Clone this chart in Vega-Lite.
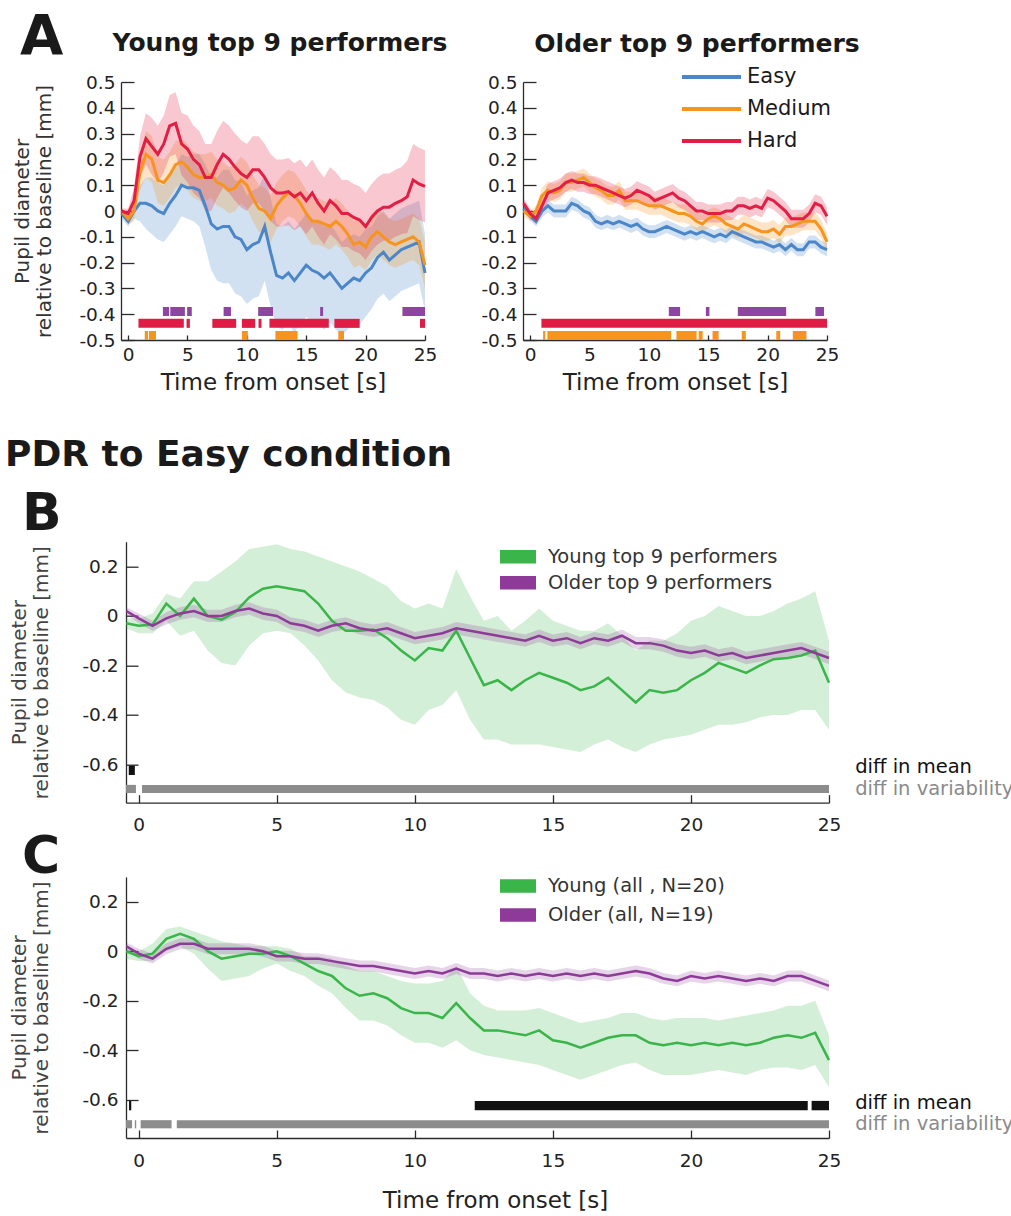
{
"$schema": "https://vega.github.io/schema/vega-lite/v6.json",
"background": "white",
"padding": {"left": 5, "top": 9, "right": 0, "bottom": 0},
"bounds": "flush",
"spacing": 459.7,
"config": {
  "font": "DejaVu Sans",
  "view": {"stroke": null},
  "axis": {"grid": false, "domainColor": "#2b2b2b", "domainWidth": 1.3, "tickColor": "#2b2b2b", "tickWidth": 1.3, "labelFont": "DejaVu Sans", "labelColor": "#222", "labelFontSize": 18.5, "titleFont": "DejaVu Sans", "titleFontWeight": "normal", "titleColor": "#333", "labelFlush": false, "labelOverlap": false},
  "legend": {"labelFont": "DejaVu Sans", "padding": 0, "offset": 0},
  "title": {"font": "DejaVu Sans", "fontWeight": "bold", "color": "#1a1a1a"}
},
"resolve": {"scale": {"color": "independent", "x": "independent", "y": "independent"}, "legend": {"color": "independent"}},
"datasets": {
"aY": [
{"t":-0.55,"c":"Easy","m":-0.01,"lo":-0.03,"hi":0.01},{"t":0,"c":"Easy","m":-0.04,"lo":-0.06,"hi":-0.02},{"t":0.5,"c":"Easy","m":0,"lo":-0.03,"hi":0.03},{"t":1,"c":"Easy","m":0.03,"lo":-0.04,"hi":0.1},{"t":1.5,"c":"Easy","m":0.03,"lo":-0.07,"hi":0.13},{"t":2,"c":"Easy","m":0.02,"lo":-0.09,"hi":0.13},{"t":2.5,"c":"Easy","m":0,"lo":-0.11,"hi":0.11},{"t":3,"c":"Easy","m":-0.01,"lo":-0.12,"hi":0.1},{"t":3.5,"c":"Easy","m":0.03,"lo":-0.09,"hi":0.15},{"t":4,"c":"Easy","m":0.06,"lo":-0.06,"hi":0.18},{"t":4.5,"c":"Easy","m":0.1,"lo":-0.02,"hi":0.22},{"t":5,"c":"Easy","m":0.09,"lo":-0.03,"hi":0.21},{"t":5.5,"c":"Easy","m":0.09,"lo":-0.04,"hi":0.22},{"t":6,"c":"Easy","m":0.08,"lo":-0.06,"hi":0.22},{"t":6.5,"c":"Easy","m":0.02,"lo":-0.14,"hi":0.18},{"t":7,"c":"Easy","m":-0.05,"lo":-0.23,"hi":0.13},{"t":7.5,"c":"Easy","m":-0.07,"lo":-0.27,"hi":0.13},{"t":8,"c":"Easy","m":-0.06,"lo":-0.28,"hi":0.16},{"t":8.5,"c":"Easy","m":-0.06,"lo":-0.28,"hi":0.16},{"t":9,"c":"Easy","m":-0.1,"lo":-0.32,"hi":0.12},{"t":9.5,"c":"Easy","m":-0.11,"lo":-0.33,"hi":0.11},{"t":10,"c":"Easy","m":-0.15,"lo":-0.36,"hi":0.06},{"t":10.5,"c":"Easy","m":-0.13,"lo":-0.34,"hi":0.08},{"t":11,"c":"Easy","m":-0.12,"lo":-0.33,"hi":0.09},{"t":11.5,"c":"Easy","m":-0.06,"lo":-0.27,"hi":0.15},{"t":12,"c":"Easy","m":-0.16,"lo":-0.37,"hi":0.05},{"t":12.5,"c":"Easy","m":-0.25,"lo":-0.45,"hi":-0.05},{"t":13,"c":"Easy","m":-0.26,"lo":-0.46,"hi":-0.06},{"t":13.5,"c":"Easy","m":-0.24,"lo":-0.44,"hi":-0.04},{"t":14,"c":"Easy","m":-0.27,"lo":-0.47,"hi":-0.07},{"t":14.5,"c":"Easy","m":-0.24,"lo":-0.44,"hi":-0.04},{"t":15,"c":"Easy","m":-0.21,"lo":-0.41,"hi":-0.01},{"t":15.5,"c":"Easy","m":-0.23,"lo":-0.43,"hi":-0.03},{"t":16,"c":"Easy","m":-0.24,"lo":-0.44,"hi":-0.04},{"t":16.5,"c":"Easy","m":-0.26,"lo":-0.46,"hi":-0.06},{"t":17,"c":"Easy","m":-0.24,"lo":-0.43,"hi":-0.05},{"t":17.5,"c":"Easy","m":-0.27,"lo":-0.46,"hi":-0.08},{"t":18,"c":"Easy","m":-0.3,"lo":-0.48,"hi":-0.12},{"t":18.5,"c":"Easy","m":-0.28,"lo":-0.46,"hi":-0.1},{"t":19,"c":"Easy","m":-0.26,"lo":-0.43,"hi":-0.09},{"t":19.5,"c":"Easy","m":-0.27,"lo":-0.44,"hi":-0.1},{"t":20,"c":"Easy","m":-0.24,"lo":-0.41,"hi":-0.07},{"t":20.5,"c":"Easy","m":-0.22,"lo":-0.38,"hi":-0.06},{"t":21,"c":"Easy","m":-0.18,"lo":-0.34,"hi":-0.02},{"t":21.5,"c":"Easy","m":-0.16,"lo":-0.32,"hi":0},{"t":22,"c":"Easy","m":-0.19,"lo":-0.35,"hi":-0.03},{"t":22.5,"c":"Easy","m":-0.17,"lo":-0.33,"hi":-0.01},{"t":23,"c":"Easy","m":-0.15,"lo":-0.31,"hi":0.01},{"t":23.5,"c":"Easy","m":-0.14,"lo":-0.3,"hi":0.02},{"t":24,"c":"Easy","m":-0.13,"lo":-0.29,"hi":0.03},{"t":24.5,"c":"Easy","m":-0.12,"lo":-0.28,"hi":0.04},{"t":25,"c":"Easy","m":-0.24,"lo":-0.39,"hi":-0.09},
{"t":-0.55,"c":"Medium","m":0,"lo":-0.01,"hi":0.01},{"t":0,"c":"Medium","m":-0.03,"lo":-0.05,"hi":-0.01},{"t":0.5,"c":"Medium","m":0,"lo":-0.04,"hi":0.04},{"t":1,"c":"Medium","m":0.15,"lo":0.08,"hi":0.22},{"t":1.5,"c":"Medium","m":0.22,"lo":0.13,"hi":0.31},{"t":2,"c":"Medium","m":0.2,"lo":0.11,"hi":0.29},{"t":2.5,"c":"Medium","m":0.12,"lo":0.03,"hi":0.21},{"t":3,"c":"Medium","m":0.11,"lo":0.02,"hi":0.2},{"t":3.5,"c":"Medium","m":0.14,"lo":0.05,"hi":0.23},{"t":4,"c":"Medium","m":0.18,"lo":0.09,"hi":0.27},{"t":4.5,"c":"Medium","m":0.19,"lo":0.1,"hi":0.28},{"t":5,"c":"Medium","m":0.17,"lo":0.08,"hi":0.26},{"t":5.5,"c":"Medium","m":0.14,"lo":0.05,"hi":0.23},{"t":6,"c":"Medium","m":0.13,"lo":0.04,"hi":0.22},{"t":6.5,"c":"Medium","m":0.13,"lo":0.04,"hi":0.22},{"t":7,"c":"Medium","m":0.14,"lo":0.05,"hi":0.23},{"t":7.5,"c":"Medium","m":0.11,"lo":0.02,"hi":0.2},{"t":8,"c":"Medium","m":0.1,"lo":0.01,"hi":0.19},{"t":8.5,"c":"Medium","m":0.08,"lo":-0.01,"hi":0.17},{"t":9,"c":"Medium","m":0.09,"lo":0,"hi":0.18},{"t":9.5,"c":"Medium","m":0.12,"lo":0.03,"hi":0.21},{"t":10,"c":"Medium","m":0.1,"lo":0.01,"hi":0.19},{"t":10.5,"c":"Medium","m":0.05,"lo":-0.04,"hi":0.14},{"t":11,"c":"Medium","m":0.01,"lo":-0.08,"hi":0.1},{"t":11.5,"c":"Medium","m":0,"lo":-0.09,"hi":0.09},{"t":12,"c":"Medium","m":-0.03,"lo":-0.12,"hi":0.06},{"t":12.5,"c":"Medium","m":0.02,"lo":-0.07,"hi":0.11},{"t":13,"c":"Medium","m":0.05,"lo":-0.04,"hi":0.14},{"t":13.5,"c":"Medium","m":0.07,"lo":-0.02,"hi":0.16},{"t":14,"c":"Medium","m":0.06,"lo":-0.03,"hi":0.15},{"t":14.5,"c":"Medium","m":0.03,"lo":-0.06,"hi":0.12},{"t":15,"c":"Medium","m":-0.01,"lo":-0.1,"hi":0.08},{"t":15.5,"c":"Medium","m":-0.04,"lo":-0.13,"hi":0.05},{"t":16,"c":"Medium","m":-0.04,"lo":-0.13,"hi":0.05},{"t":16.5,"c":"Medium","m":-0.05,"lo":-0.14,"hi":0.04},{"t":17,"c":"Medium","m":-0.06,"lo":-0.15,"hi":0.03},{"t":17.5,"c":"Medium","m":-0.04,"lo":-0.13,"hi":0.05},{"t":18,"c":"Medium","m":-0.06,"lo":-0.15,"hi":0.03},{"t":18.5,"c":"Medium","m":-0.09,"lo":-0.18,"hi":0},{"t":19,"c":"Medium","m":-0.13,"lo":-0.22,"hi":-0.04},{"t":19.5,"c":"Medium","m":-0.12,"lo":-0.21,"hi":-0.03},{"t":20,"c":"Medium","m":-0.14,"lo":-0.23,"hi":-0.05},{"t":20.5,"c":"Medium","m":-0.1,"lo":-0.19,"hi":-0.01},{"t":21,"c":"Medium","m":-0.08,"lo":-0.17,"hi":0.01},{"t":21.5,"c":"Medium","m":-0.1,"lo":-0.19,"hi":-0.01},{"t":22,"c":"Medium","m":-0.12,"lo":-0.21,"hi":-0.03},{"t":22.5,"c":"Medium","m":-0.13,"lo":-0.22,"hi":-0.04},{"t":23,"c":"Medium","m":-0.12,"lo":-0.21,"hi":-0.03},{"t":23.5,"c":"Medium","m":-0.11,"lo":-0.2,"hi":-0.02},{"t":24,"c":"Medium","m":-0.1,"lo":-0.19,"hi":-0.01},{"t":24.5,"c":"Medium","m":-0.12,"lo":-0.21,"hi":-0.03},{"t":25,"c":"Medium","m":-0.21,"lo":-0.3,"hi":-0.12},
{"t":-0.55,"c":"Hard","m":0,"lo":-0.01,"hi":0.01},{"t":0,"c":"Hard","m":-0.01,"lo":-0.03,"hi":0.01},{"t":0.5,"c":"Hard","m":0.04,"lo":-0.01,"hi":0.09},{"t":1,"c":"Hard","m":0.21,"lo":0.13,"hi":0.29},{"t":1.5,"c":"Hard","m":0.28,"lo":0.18,"hi":0.38},{"t":2,"c":"Hard","m":0.25,"lo":0.14,"hi":0.36},{"t":2.5,"c":"Hard","m":0.22,"lo":0.11,"hi":0.33},{"t":3,"c":"Hard","m":0.26,"lo":0.15,"hi":0.37},{"t":3.5,"c":"Hard","m":0.33,"lo":0.21,"hi":0.45},{"t":4,"c":"Hard","m":0.34,"lo":0.22,"hi":0.46},{"t":4.5,"c":"Hard","m":0.26,"lo":0.14,"hi":0.38},{"t":5,"c":"Hard","m":0.24,"lo":0.11,"hi":0.37},{"t":5.5,"c":"Hard","m":0.2,"lo":0.07,"hi":0.33},{"t":6,"c":"Hard","m":0.18,"lo":0.05,"hi":0.31},{"t":6.5,"c":"Hard","m":0.13,"lo":0,"hi":0.26},{"t":7,"c":"Hard","m":0.13,"lo":0,"hi":0.26},{"t":7.5,"c":"Hard","m":0.18,"lo":0.05,"hi":0.31},{"t":8,"c":"Hard","m":0.22,"lo":0.09,"hi":0.35},{"t":8.5,"c":"Hard","m":0.2,"lo":0.07,"hi":0.33},{"t":9,"c":"Hard","m":0.17,"lo":0.04,"hi":0.3},{"t":9.5,"c":"Hard","m":0.145,"lo":0.015,"hi":0.275},{"t":10,"c":"Hard","m":0.13,"lo":0,"hi":0.26},{"t":10.5,"c":"Hard","m":0.16,"lo":0.03,"hi":0.29},{"t":11,"c":"Hard","m":0.16,"lo":0.03,"hi":0.29},{"t":11.5,"c":"Hard","m":0.13,"lo":0,"hi":0.26},{"t":12,"c":"Hard","m":0.09,"lo":-0.04,"hi":0.22},{"t":12.5,"c":"Hard","m":0.07,"lo":-0.06,"hi":0.2},{"t":13,"c":"Hard","m":0.07,"lo":-0.06,"hi":0.2},{"t":13.5,"c":"Hard","m":0.075,"lo":-0.055,"hi":0.205},{"t":14,"c":"Hard","m":0.055,"lo":-0.075,"hi":0.185},{"t":14.5,"c":"Hard","m":0.07,"lo":-0.06,"hi":0.2},{"t":15,"c":"Hard","m":0.04,"lo":-0.09,"hi":0.17},{"t":15.5,"c":"Hard","m":0.07,"lo":-0.06,"hi":0.2},{"t":16,"c":"Hard","m":0.03,"lo":-0.1,"hi":0.16},{"t":16.5,"c":"Hard","m":0,"lo":-0.13,"hi":0.13},{"t":17,"c":"Hard","m":0.04,"lo":-0.09,"hi":0.17},{"t":17.5,"c":"Hard","m":0.02,"lo":-0.11,"hi":0.15},{"t":18,"c":"Hard","m":-0.01,"lo":-0.14,"hi":0.12},{"t":18.5,"c":"Hard","m":-0.01,"lo":-0.14,"hi":0.12},{"t":19,"c":"Hard","m":-0.025,"lo":-0.155,"hi":0.105},{"t":19.5,"c":"Hard","m":-0.035,"lo":-0.165,"hi":0.095},{"t":20,"c":"Hard","m":-0.06,"lo":-0.19,"hi":0.07},{"t":20.5,"c":"Hard","m":-0.025,"lo":-0.155,"hi":0.105},{"t":21,"c":"Hard","m":0,"lo":-0.13,"hi":0.13},{"t":21.5,"c":"Hard","m":0.015,"lo":-0.115,"hi":0.145},{"t":22,"c":"Hard","m":0.015,"lo":-0.115,"hi":0.145},{"t":22.5,"c":"Hard","m":0.03,"lo":-0.1,"hi":0.16},{"t":23,"c":"Hard","m":0.04,"lo":-0.09,"hi":0.17},{"t":23.5,"c":"Hard","m":0.055,"lo":-0.085,"hi":0.195},{"t":24,"c":"Hard","m":0.12,"lo":-0.02,"hi":0.26},{"t":24.5,"c":"Hard","m":0.105,"lo":-0.035,"hi":0.245},{"t":25,"c":"Hard","m":0.095,"lo":-0.045,"hi":0.235}
],
"aO": [
{"t":-0.55,"c":"Easy","m":0.01,"lo":-0.005,"hi":0.025},{"t":0,"c":"Easy","m":-0.02,"lo":-0.035,"hi":-0.005},{"t":0.5,"c":"Easy","m":-0.04,"lo":-0.06,"hi":-0.02},{"t":1,"c":"Easy","m":0,"lo":-0.025,"hi":0.025},{"t":1.5,"c":"Easy","m":0.02,"lo":-0.005,"hi":0.045},{"t":2,"c":"Easy","m":0,"lo":-0.025,"hi":0.025},{"t":2.5,"c":"Easy","m":0,"lo":-0.025,"hi":0.025},{"t":3,"c":"Easy","m":0,"lo":-0.025,"hi":0.025},{"t":3.5,"c":"Easy","m":0.03,"lo":0.005,"hi":0.055},{"t":4,"c":"Easy","m":0.02,"lo":-0.005,"hi":0.045},{"t":4.5,"c":"Easy","m":0,"lo":-0.025,"hi":0.025},{"t":5,"c":"Easy","m":-0.01,"lo":-0.035,"hi":0.015},{"t":5.5,"c":"Easy","m":-0.04,"lo":-0.065,"hi":-0.015},{"t":6,"c":"Easy","m":-0.05,"lo":-0.075,"hi":-0.025},{"t":6.5,"c":"Easy","m":-0.04,"lo":-0.065,"hi":-0.015},{"t":7,"c":"Easy","m":-0.05,"lo":-0.075,"hi":-0.025},{"t":7.5,"c":"Easy","m":-0.04,"lo":-0.065,"hi":-0.015},{"t":8,"c":"Easy","m":-0.05,"lo":-0.075,"hi":-0.025},{"t":8.5,"c":"Easy","m":-0.06,"lo":-0.085,"hi":-0.035},{"t":9,"c":"Easy","m":-0.05,"lo":-0.075,"hi":-0.025},{"t":9.5,"c":"Easy","m":-0.07,"lo":-0.095,"hi":-0.045},{"t":10,"c":"Easy","m":-0.08,"lo":-0.105,"hi":-0.055},{"t":10.5,"c":"Easy","m":-0.08,"lo":-0.105,"hi":-0.055},{"t":11,"c":"Easy","m":-0.07,"lo":-0.095,"hi":-0.045},{"t":11.5,"c":"Easy","m":-0.06,"lo":-0.085,"hi":-0.035},{"t":12,"c":"Easy","m":-0.07,"lo":-0.095,"hi":-0.045},{"t":12.5,"c":"Easy","m":-0.08,"lo":-0.105,"hi":-0.055},{"t":13,"c":"Easy","m":-0.09,"lo":-0.115,"hi":-0.065},{"t":13.5,"c":"Easy","m":-0.08,"lo":-0.105,"hi":-0.055},{"t":14,"c":"Easy","m":-0.09,"lo":-0.115,"hi":-0.065},{"t":14.5,"c":"Easy","m":-0.08,"lo":-0.105,"hi":-0.055},{"t":15,"c":"Easy","m":-0.09,"lo":-0.115,"hi":-0.065},{"t":15.5,"c":"Easy","m":-0.1,"lo":-0.125,"hi":-0.075},{"t":16,"c":"Easy","m":-0.09,"lo":-0.115,"hi":-0.065},{"t":16.5,"c":"Easy","m":-0.1,"lo":-0.125,"hi":-0.075},{"t":17,"c":"Easy","m":-0.08,"lo":-0.105,"hi":-0.055},{"t":17.5,"c":"Easy","m":-0.09,"lo":-0.115,"hi":-0.065},{"t":18,"c":"Easy","m":-0.1,"lo":-0.125,"hi":-0.075},{"t":18.5,"c":"Easy","m":-0.11,"lo":-0.135,"hi":-0.085},{"t":19,"c":"Easy","m":-0.12,"lo":-0.145,"hi":-0.095},{"t":19.5,"c":"Easy","m":-0.12,"lo":-0.145,"hi":-0.095},{"t":20,"c":"Easy","m":-0.13,"lo":-0.155,"hi":-0.105},{"t":20.5,"c":"Easy","m":-0.14,"lo":-0.165,"hi":-0.115},{"t":21,"c":"Easy","m":-0.13,"lo":-0.155,"hi":-0.105},{"t":21.5,"c":"Easy","m":-0.15,"lo":-0.175,"hi":-0.125},{"t":22,"c":"Easy","m":-0.13,"lo":-0.155,"hi":-0.105},{"t":22.5,"c":"Easy","m":-0.15,"lo":-0.175,"hi":-0.125},{"t":23,"c":"Easy","m":-0.15,"lo":-0.175,"hi":-0.125},{"t":23.5,"c":"Easy","m":-0.12,"lo":-0.145,"hi":-0.095},{"t":24,"c":"Easy","m":-0.12,"lo":-0.145,"hi":-0.095},{"t":24.5,"c":"Easy","m":-0.14,"lo":-0.165,"hi":-0.115},{"t":25,"c":"Easy","m":-0.15,"lo":-0.175,"hi":-0.125},
{"t":-0.55,"c":"Medium","m":0,"lo":-0.02,"hi":0.02},{"t":0,"c":"Medium","m":-0.02,"lo":-0.04,"hi":0},{"t":0.5,"c":"Medium","m":0,"lo":-0.02,"hi":0.02},{"t":1,"c":"Medium","m":0.06,"lo":0.03,"hi":0.09},{"t":1.5,"c":"Medium","m":0.08,"lo":0.045,"hi":0.115},{"t":2,"c":"Medium","m":0.07,"lo":0.035,"hi":0.105},{"t":2.5,"c":"Medium","m":0.08,"lo":0.045,"hi":0.115},{"t":3,"c":"Medium","m":0.11,"lo":0.075,"hi":0.145},{"t":3.5,"c":"Medium","m":0.11,"lo":0.075,"hi":0.145},{"t":4,"c":"Medium","m":0.12,"lo":0.085,"hi":0.155},{"t":4.5,"c":"Medium","m":0.13,"lo":0.095,"hi":0.165},{"t":5,"c":"Medium","m":0.11,"lo":0.075,"hi":0.145},{"t":5.5,"c":"Medium","m":0.09,"lo":0.055,"hi":0.125},{"t":6,"c":"Medium","m":0.08,"lo":0.045,"hi":0.115},{"t":6.5,"c":"Medium","m":0.06,"lo":0.025,"hi":0.095},{"t":7,"c":"Medium","m":0.06,"lo":0.025,"hi":0.095},{"t":7.5,"c":"Medium","m":0.08,"lo":0.045,"hi":0.115},{"t":8,"c":"Medium","m":0.04,"lo":0.005,"hi":0.075},{"t":8.5,"c":"Medium","m":0.04,"lo":0.005,"hi":0.075},{"t":9,"c":"Medium","m":0.04,"lo":0.005,"hi":0.075},{"t":9.5,"c":"Medium","m":0.03,"lo":-0.005,"hi":0.065},{"t":10,"c":"Medium","m":0.02,"lo":-0.015,"hi":0.055},{"t":10.5,"c":"Medium","m":0.02,"lo":-0.015,"hi":0.055},{"t":11,"c":"Medium","m":0.02,"lo":-0.015,"hi":0.055},{"t":11.5,"c":"Medium","m":0.01,"lo":-0.025,"hi":0.045},{"t":12,"c":"Medium","m":0,"lo":-0.035,"hi":0.035},{"t":12.5,"c":"Medium","m":-0.01,"lo":-0.045,"hi":0.025},{"t":13,"c":"Medium","m":-0.01,"lo":-0.045,"hi":0.025},{"t":13.5,"c":"Medium","m":-0.02,"lo":-0.055,"hi":0.015},{"t":14,"c":"Medium","m":-0.04,"lo":-0.075,"hi":-0.005},{"t":14.5,"c":"Medium","m":-0.05,"lo":-0.085,"hi":-0.015},{"t":15,"c":"Medium","m":-0.03,"lo":-0.065,"hi":0.005},{"t":15.5,"c":"Medium","m":-0.02,"lo":-0.055,"hi":0.015},{"t":16,"c":"Medium","m":-0.03,"lo":-0.065,"hi":0.005},{"t":16.5,"c":"Medium","m":-0.05,"lo":-0.085,"hi":-0.015},{"t":17,"c":"Medium","m":-0.06,"lo":-0.095,"hi":-0.025},{"t":17.5,"c":"Medium","m":-0.07,"lo":-0.105,"hi":-0.035},{"t":18,"c":"Medium","m":-0.05,"lo":-0.085,"hi":-0.015},{"t":18.5,"c":"Medium","m":-0.06,"lo":-0.095,"hi":-0.025},{"t":19,"c":"Medium","m":-0.07,"lo":-0.105,"hi":-0.035},{"t":19.5,"c":"Medium","m":-0.08,"lo":-0.115,"hi":-0.045},{"t":20,"c":"Medium","m":-0.08,"lo":-0.115,"hi":-0.045},{"t":20.5,"c":"Medium","m":-0.07,"lo":-0.105,"hi":-0.035},{"t":21,"c":"Medium","m":-0.09,"lo":-0.125,"hi":-0.055},{"t":21.5,"c":"Medium","m":-0.06,"lo":-0.095,"hi":-0.025},{"t":22,"c":"Medium","m":-0.06,"lo":-0.095,"hi":-0.025},{"t":22.5,"c":"Medium","m":-0.05,"lo":-0.085,"hi":-0.015},{"t":23,"c":"Medium","m":-0.04,"lo":-0.075,"hi":-0.005},{"t":23.5,"c":"Medium","m":-0.04,"lo":-0.075,"hi":-0.005},{"t":24,"c":"Medium","m":-0.04,"lo":-0.075,"hi":-0.005},{"t":24.5,"c":"Medium","m":-0.07,"lo":-0.105,"hi":-0.035},{"t":25,"c":"Medium","m":-0.12,"lo":-0.155,"hi":-0.085},
{"t":-0.55,"c":"Hard","m":0.03,"lo":0.01,"hi":0.05},{"t":0,"c":"Hard","m":-0.01,"lo":-0.03,"hi":0.01},{"t":0.5,"c":"Hard","m":-0.03,"lo":-0.05,"hi":-0.01},{"t":1,"c":"Hard","m":0.02,"lo":-0.015,"hi":0.055},{"t":1.5,"c":"Hard","m":0.07,"lo":0.035,"hi":0.105},{"t":2,"c":"Hard","m":0.08,"lo":0.045,"hi":0.115},{"t":2.5,"c":"Hard","m":0.09,"lo":0.055,"hi":0.125},{"t":3,"c":"Hard","m":0.11,"lo":0.075,"hi":0.145},{"t":3.5,"c":"Hard","m":0.12,"lo":0.085,"hi":0.155},{"t":4,"c":"Hard","m":0.11,"lo":0.075,"hi":0.145},{"t":4.5,"c":"Hard","m":0.11,"lo":0.075,"hi":0.145},{"t":5,"c":"Hard","m":0.1,"lo":0.065,"hi":0.135},{"t":5.5,"c":"Hard","m":0.1,"lo":0.065,"hi":0.135},{"t":6,"c":"Hard","m":0.09,"lo":0.055,"hi":0.125},{"t":6.5,"c":"Hard","m":0.08,"lo":0.045,"hi":0.115},{"t":7,"c":"Hard","m":0.07,"lo":0.035,"hi":0.105},{"t":7.5,"c":"Hard","m":0.06,"lo":0.025,"hi":0.095},{"t":8,"c":"Hard","m":0.05,"lo":0.015,"hi":0.085},{"t":8.5,"c":"Hard","m":0.06,"lo":0.025,"hi":0.095},{"t":9,"c":"Hard","m":0.08,"lo":0.045,"hi":0.115},{"t":9.5,"c":"Hard","m":0.07,"lo":0.035,"hi":0.105},{"t":10,"c":"Hard","m":0.06,"lo":0.025,"hi":0.095},{"t":10.5,"c":"Hard","m":0.04,"lo":0.005,"hi":0.075},{"t":11,"c":"Hard","m":0.05,"lo":0.015,"hi":0.085},{"t":11.5,"c":"Hard","m":0.06,"lo":0.025,"hi":0.095},{"t":12,"c":"Hard","m":0.07,"lo":0.035,"hi":0.105},{"t":12.5,"c":"Hard","m":0.05,"lo":0.015,"hi":0.085},{"t":13,"c":"Hard","m":0.04,"lo":0.005,"hi":0.075},{"t":13.5,"c":"Hard","m":0.02,"lo":-0.015,"hi":0.055},{"t":14,"c":"Hard","m":0,"lo":-0.035,"hi":0.035},{"t":14.5,"c":"Hard","m":0,"lo":-0.035,"hi":0.035},{"t":15,"c":"Hard","m":-0.01,"lo":-0.045,"hi":0.025},{"t":15.5,"c":"Hard","m":-0.01,"lo":-0.045,"hi":0.025},{"t":16,"c":"Hard","m":-0.01,"lo":-0.045,"hi":0.025},{"t":16.5,"c":"Hard","m":0,"lo":-0.035,"hi":0.035},{"t":17,"c":"Hard","m":0,"lo":-0.035,"hi":0.035},{"t":17.5,"c":"Hard","m":0.02,"lo":-0.015,"hi":0.055},{"t":18,"c":"Hard","m":0.02,"lo":-0.015,"hi":0.055},{"t":18.5,"c":"Hard","m":0.01,"lo":-0.025,"hi":0.045},{"t":19,"c":"Hard","m":0.02,"lo":-0.015,"hi":0.055},{"t":19.5,"c":"Hard","m":0.01,"lo":-0.025,"hi":0.045},{"t":20,"c":"Hard","m":0.05,"lo":0.015,"hi":0.085},{"t":20.5,"c":"Hard","m":0.04,"lo":0.005,"hi":0.075},{"t":21,"c":"Hard","m":0.02,"lo":-0.015,"hi":0.055},{"t":21.5,"c":"Hard","m":0,"lo":-0.035,"hi":0.035},{"t":22,"c":"Hard","m":-0.03,"lo":-0.065,"hi":0.005},{"t":22.5,"c":"Hard","m":-0.03,"lo":-0.065,"hi":0.005},{"t":23,"c":"Hard","m":-0.03,"lo":-0.065,"hi":0.005},{"t":23.5,"c":"Hard","m":-0.01,"lo":-0.045,"hi":0.025},{"t":24,"c":"Hard","m":0.03,"lo":-0.005,"hi":0.065},{"t":24.5,"c":"Hard","m":0.02,"lo":-0.015,"hi":0.055},{"t":25,"c":"Hard","m":-0.02,"lo":-0.055,"hi":0.015}
],
"bB": [
{"t":-0.45,"g":"Young top 9 performers","m":-0.03,"lo":-0.05,"hi":-0.01},{"t":0,"g":"Young top 9 performers","m":-0.04,"lo":-0.07,"hi":-0.01},{"t":0.5,"g":"Young top 9 performers","m":-0.035,"lo":-0.07,"hi":0.01},{"t":1,"g":"Young top 9 performers","m":0.05,"lo":-0.02,"hi":0.09},{"t":1.5,"g":"Young top 9 performers","m":0,"lo":-0.08,"hi":0.07},{"t":2,"g":"Young top 9 performers","m":0.07,"lo":-0.06,"hi":0.14},{"t":2.5,"g":"Young top 9 performers","m":0,"lo":-0.14,"hi":0.14},{"t":3,"g":"Young top 9 performers","m":-0.015,"lo":-0.19,"hi":0.18},{"t":3.5,"g":"Young top 9 performers","m":0.015,"lo":-0.2,"hi":0.22},{"t":4,"g":"Young top 9 performers","m":0.075,"lo":-0.12,"hi":0.27},{"t":4.5,"g":"Young top 9 performers","m":0.11,"lo":-0.07,"hi":0.28},{"t":5,"g":"Young top 9 performers","m":0.12,"lo":-0.06,"hi":0.29},{"t":5.5,"g":"Young top 9 performers","m":0.11,"lo":-0.07,"hi":0.27},{"t":6,"g":"Young top 9 performers","m":0.1,"lo":-0.12,"hi":0.26},{"t":6.5,"g":"Young top 9 performers","m":0.05,"lo":-0.18,"hi":0.24},{"t":7,"g":"Young top 9 performers","m":-0.02,"lo":-0.26,"hi":0.22},{"t":7.5,"g":"Young top 9 performers","m":-0.06,"lo":-0.31,"hi":0.2},{"t":8,"g":"Young top 9 performers","m":-0.06,"lo":-0.33,"hi":0.18},{"t":8.5,"g":"Young top 9 performers","m":-0.055,"lo":-0.34,"hi":0.15},{"t":9,"g":"Young top 9 performers","m":-0.09,"lo":-0.37,"hi":0.12},{"t":9.5,"g":"Young top 9 performers","m":-0.14,"lo":-0.42,"hi":0.06},{"t":10,"g":"Young top 9 performers","m":-0.18,"lo":-0.44,"hi":0.03},{"t":10.5,"g":"Young top 9 performers","m":-0.13,"lo":-0.38,"hi":0.05},{"t":11,"g":"Young top 9 performers","m":-0.14,"lo":-0.36,"hi":0.03},{"t":11.5,"g":"Young top 9 performers","m":-0.06,"lo":-0.3,"hi":0.19},{"t":12,"g":"Young top 9 performers","m":-0.17,"lo":-0.42,"hi":0.08},{"t":12.5,"g":"Young top 9 performers","m":-0.28,"lo":-0.5,"hi":-0.02},{"t":13,"g":"Young top 9 performers","m":-0.26,"lo":-0.5,"hi":0},{"t":13.5,"g":"Young top 9 performers","m":-0.3,"lo":-0.52,"hi":-0.06},{"t":14,"g":"Young top 9 performers","m":-0.26,"lo":-0.52,"hi":-0.02},{"t":14.5,"g":"Young top 9 performers","m":-0.23,"lo":-0.52,"hi":0.03},{"t":15,"g":"Young top 9 performers","m":-0.25,"lo":-0.53,"hi":-0.02},{"t":15.5,"g":"Young top 9 performers","m":-0.27,"lo":-0.54,"hi":-0.04},{"t":16,"g":"Young top 9 performers","m":-0.3,"lo":-0.55,"hi":-0.06},{"t":16.5,"g":"Young top 9 performers","m":-0.285,"lo":-0.52,"hi":-0.06},{"t":17,"g":"Young top 9 performers","m":-0.25,"lo":-0.5,"hi":-0.03},{"t":17.5,"g":"Young top 9 performers","m":-0.3,"lo":-0.53,"hi":-0.08},{"t":18,"g":"Young top 9 performers","m":-0.35,"lo":-0.55,"hi":-0.14},{"t":18.5,"g":"Young top 9 performers","m":-0.3,"lo":-0.52,"hi":-0.1},{"t":19,"g":"Young top 9 performers","m":-0.31,"lo":-0.5,"hi":-0.1},{"t":19.5,"g":"Young top 9 performers","m":-0.3,"lo":-0.49,"hi":-0.07},{"t":20,"g":"Young top 9 performers","m":-0.26,"lo":-0.48,"hi":-0.02},{"t":20.5,"g":"Young top 9 performers","m":-0.23,"lo":-0.46,"hi":0},{"t":21,"g":"Young top 9 performers","m":-0.19,"lo":-0.44,"hi":0.04},{"t":21.5,"g":"Young top 9 performers","m":-0.21,"lo":-0.44,"hi":0.02},{"t":22,"g":"Young top 9 performers","m":-0.23,"lo":-0.43,"hi":0},{"t":22.5,"g":"Young top 9 performers","m":-0.2,"lo":-0.41,"hi":0},{"t":23,"g":"Young top 9 performers","m":-0.175,"lo":-0.4,"hi":0.02},{"t":23.5,"g":"Young top 9 performers","m":-0.17,"lo":-0.4,"hi":0.05},{"t":24,"g":"Young top 9 performers","m":-0.16,"lo":-0.38,"hi":0.07},{"t":24.5,"g":"Young top 9 performers","m":-0.14,"lo":-0.38,"hi":0.1},{"t":25,"g":"Young top 9 performers","m":-0.27,"lo":-0.46,"hi":-0.1},
{"t":-0.45,"g":"Older top 9 performers","m":0.02,"lo":0.005,"hi":0.035},{"t":0,"g":"Older top 9 performers","m":-0.01,"lo":-0.03,"hi":0.01},{"t":0.5,"g":"Older top 9 performers","m":-0.04,"lo":-0.06,"hi":-0.02},{"t":1,"g":"Older top 9 performers","m":-0.01,"lo":-0.035,"hi":0.015},{"t":1.5,"g":"Older top 9 performers","m":0.01,"lo":-0.015,"hi":0.035},{"t":2,"g":"Older top 9 performers","m":0.02,"lo":-0.005,"hi":0.045},{"t":2.5,"g":"Older top 9 performers","m":0,"lo":-0.025,"hi":0.025},{"t":3,"g":"Older top 9 performers","m":0,"lo":-0.025,"hi":0.025},{"t":3.5,"g":"Older top 9 performers","m":0.02,"lo":-0.005,"hi":0.045},{"t":4,"g":"Older top 9 performers","m":0.03,"lo":0.005,"hi":0.055},{"t":4.5,"g":"Older top 9 performers","m":0.01,"lo":-0.015,"hi":0.035},{"t":5,"g":"Older top 9 performers","m":0,"lo":-0.025,"hi":0.025},{"t":5.5,"g":"Older top 9 performers","m":-0.03,"lo":-0.055,"hi":-0.005},{"t":6,"g":"Older top 9 performers","m":-0.04,"lo":-0.065,"hi":-0.015},{"t":6.5,"g":"Older top 9 performers","m":-0.06,"lo":-0.085,"hi":-0.035},{"t":7,"g":"Older top 9 performers","m":-0.04,"lo":-0.065,"hi":-0.015},{"t":7.5,"g":"Older top 9 performers","m":-0.03,"lo":-0.055,"hi":-0.005},{"t":8,"g":"Older top 9 performers","m":-0.05,"lo":-0.075,"hi":-0.025},{"t":8.5,"g":"Older top 9 performers","m":-0.06,"lo":-0.085,"hi":-0.035},{"t":9,"g":"Older top 9 performers","m":-0.05,"lo":-0.075,"hi":-0.025},{"t":9.5,"g":"Older top 9 performers","m":-0.07,"lo":-0.095,"hi":-0.045},{"t":10,"g":"Older top 9 performers","m":-0.09,"lo":-0.115,"hi":-0.065},{"t":10.5,"g":"Older top 9 performers","m":-0.08,"lo":-0.105,"hi":-0.055},{"t":11,"g":"Older top 9 performers","m":-0.07,"lo":-0.095,"hi":-0.045},{"t":11.5,"g":"Older top 9 performers","m":-0.05,"lo":-0.075,"hi":-0.025},{"t":12,"g":"Older top 9 performers","m":-0.06,"lo":-0.085,"hi":-0.035},{"t":12.5,"g":"Older top 9 performers","m":-0.07,"lo":-0.095,"hi":-0.045},{"t":13,"g":"Older top 9 performers","m":-0.08,"lo":-0.105,"hi":-0.055},{"t":13.5,"g":"Older top 9 performers","m":-0.09,"lo":-0.115,"hi":-0.065},{"t":14,"g":"Older top 9 performers","m":-0.1,"lo":-0.125,"hi":-0.075},{"t":14.5,"g":"Older top 9 performers","m":-0.08,"lo":-0.105,"hi":-0.055},{"t":15,"g":"Older top 9 performers","m":-0.1,"lo":-0.125,"hi":-0.075},{"t":15.5,"g":"Older top 9 performers","m":-0.09,"lo":-0.115,"hi":-0.065},{"t":16,"g":"Older top 9 performers","m":-0.11,"lo":-0.135,"hi":-0.085},{"t":16.5,"g":"Older top 9 performers","m":-0.09,"lo":-0.115,"hi":-0.065},{"t":17,"g":"Older top 9 performers","m":-0.1,"lo":-0.125,"hi":-0.075},{"t":17.5,"g":"Older top 9 performers","m":-0.08,"lo":-0.105,"hi":-0.055},{"t":18,"g":"Older top 9 performers","m":-0.11,"lo":-0.135,"hi":-0.085},{"t":18.5,"g":"Older top 9 performers","m":-0.11,"lo":-0.135,"hi":-0.085},{"t":19,"g":"Older top 9 performers","m":-0.12,"lo":-0.145,"hi":-0.095},{"t":19.5,"g":"Older top 9 performers","m":-0.14,"lo":-0.165,"hi":-0.115},{"t":20,"g":"Older top 9 performers","m":-0.15,"lo":-0.175,"hi":-0.125},{"t":20.5,"g":"Older top 9 performers","m":-0.14,"lo":-0.165,"hi":-0.115},{"t":21,"g":"Older top 9 performers","m":-0.16,"lo":-0.185,"hi":-0.135},{"t":21.5,"g":"Older top 9 performers","m":-0.15,"lo":-0.175,"hi":-0.125},{"t":22,"g":"Older top 9 performers","m":-0.17,"lo":-0.195,"hi":-0.145},{"t":22.5,"g":"Older top 9 performers","m":-0.16,"lo":-0.185,"hi":-0.135},{"t":23,"g":"Older top 9 performers","m":-0.15,"lo":-0.175,"hi":-0.125},{"t":23.5,"g":"Older top 9 performers","m":-0.14,"lo":-0.165,"hi":-0.115},{"t":24,"g":"Older top 9 performers","m":-0.13,"lo":-0.155,"hi":-0.105},{"t":24.5,"g":"Older top 9 performers","m":-0.15,"lo":-0.175,"hi":-0.125},{"t":25,"g":"Older top 9 performers","m":-0.17,"lo":-0.195,"hi":-0.145}
],
"bC": [
{"t":-0.45,"g":"Young (all , N=20)","m":0,"lo":-0.03,"hi":0.01},{"t":0,"g":"Young (all , N=20)","m":-0.02,"lo":-0.04,"hi":0},{"t":0.5,"g":"Young (all , N=20)","m":-0.01,"lo":-0.04,"hi":0.03},{"t":1,"g":"Young (all , N=20)","m":0.05,"lo":0,"hi":0.09},{"t":1.5,"g":"Young (all , N=20)","m":0.07,"lo":0.02,"hi":0.1},{"t":2,"g":"Young (all , N=20)","m":0.05,"lo":-0.01,"hi":0.08},{"t":2.5,"g":"Young (all , N=20)","m":0,"lo":-0.07,"hi":0.06},{"t":3,"g":"Young (all , N=20)","m":-0.03,"lo":-0.12,"hi":0.04},{"t":3.5,"g":"Young (all , N=20)","m":-0.02,"lo":-0.11,"hi":0.03},{"t":4,"g":"Young (all , N=20)","m":-0.01,"lo":-0.1,"hi":0.02},{"t":4.5,"g":"Young (all , N=20)","m":-0.01,"lo":-0.07,"hi":0.02},{"t":5,"g":"Young (all , N=20)","m":0,"lo":-0.05,"hi":0.02},{"t":5.5,"g":"Young (all , N=20)","m":-0.02,"lo":-0.08,"hi":0.01},{"t":6,"g":"Young (all , N=20)","m":-0.05,"lo":-0.1,"hi":-0.02},{"t":6.5,"g":"Young (all , N=20)","m":-0.08,"lo":-0.14,"hi":-0.02},{"t":7,"g":"Young (all , N=20)","m":-0.1,"lo":-0.17,"hi":-0.03},{"t":7.5,"g":"Young (all , N=20)","m":-0.15,"lo":-0.23,"hi":-0.06},{"t":8,"g":"Young (all , N=20)","m":-0.18,"lo":-0.28,"hi":-0.08},{"t":8.5,"g":"Young (all , N=20)","m":-0.17,"lo":-0.28,"hi":-0.08},{"t":9,"g":"Young (all , N=20)","m":-0.19,"lo":-0.3,"hi":-0.1},{"t":9.5,"g":"Young (all , N=20)","m":-0.23,"lo":-0.34,"hi":-0.12},{"t":10,"g":"Young (all , N=20)","m":-0.25,"lo":-0.37,"hi":-0.13},{"t":10.5,"g":"Young (all , N=20)","m":-0.25,"lo":-0.37,"hi":-0.13},{"t":11,"g":"Young (all , N=20)","m":-0.27,"lo":-0.39,"hi":-0.12},{"t":11.5,"g":"Young (all , N=20)","m":-0.21,"lo":-0.36,"hi":-0.06},{"t":12,"g":"Young (all , N=20)","m":-0.27,"lo":-0.4,"hi":-0.17},{"t":12.5,"g":"Young (all , N=20)","m":-0.32,"lo":-0.42,"hi":-0.22},{"t":13,"g":"Young (all , N=20)","m":-0.32,"lo":-0.43,"hi":-0.24},{"t":13.5,"g":"Young (all , N=20)","m":-0.33,"lo":-0.44,"hi":-0.24},{"t":14,"g":"Young (all , N=20)","m":-0.34,"lo":-0.45,"hi":-0.24},{"t":14.5,"g":"Young (all , N=20)","m":-0.32,"lo":-0.46,"hi":-0.23},{"t":15,"g":"Young (all , N=20)","m":-0.36,"lo":-0.48,"hi":-0.25},{"t":15.5,"g":"Young (all , N=20)","m":-0.37,"lo":-0.5,"hi":-0.27},{"t":16,"g":"Young (all , N=20)","m":-0.39,"lo":-0.52,"hi":-0.29},{"t":16.5,"g":"Young (all , N=20)","m":-0.37,"lo":-0.5,"hi":-0.28},{"t":17,"g":"Young (all , N=20)","m":-0.35,"lo":-0.48,"hi":-0.27},{"t":17.5,"g":"Young (all , N=20)","m":-0.34,"lo":-0.46,"hi":-0.25},{"t":18,"g":"Young (all , N=20)","m":-0.34,"lo":-0.45,"hi":-0.25},{"t":18.5,"g":"Young (all , N=20)","m":-0.37,"lo":-0.48,"hi":-0.27},{"t":19,"g":"Young (all , N=20)","m":-0.38,"lo":-0.5,"hi":-0.28},{"t":19.5,"g":"Young (all , N=20)","m":-0.37,"lo":-0.5,"hi":-0.27},{"t":20,"g":"Young (all , N=20)","m":-0.38,"lo":-0.5,"hi":-0.27},{"t":20.5,"g":"Young (all , N=20)","m":-0.37,"lo":-0.49,"hi":-0.27},{"t":21,"g":"Young (all , N=20)","m":-0.38,"lo":-0.48,"hi":-0.28},{"t":21.5,"g":"Young (all , N=20)","m":-0.37,"lo":-0.49,"hi":-0.27},{"t":22,"g":"Young (all , N=20)","m":-0.38,"lo":-0.5,"hi":-0.26},{"t":22.5,"g":"Young (all , N=20)","m":-0.37,"lo":-0.48,"hi":-0.25},{"t":23,"g":"Young (all , N=20)","m":-0.35,"lo":-0.47,"hi":-0.24},{"t":23.5,"g":"Young (all , N=20)","m":-0.34,"lo":-0.47,"hi":-0.22},{"t":24,"g":"Young (all , N=20)","m":-0.35,"lo":-0.48,"hi":-0.22},{"t":24.5,"g":"Young (all , N=20)","m":-0.33,"lo":-0.46,"hi":-0.2},{"t":25,"g":"Young (all , N=20)","m":-0.44,"lo":-0.55,"hi":-0.34},
{"t":-0.45,"g":"Older (all, N=19)","m":0.02,"lo":0.005,"hi":0.035},{"t":0,"g":"Older (all, N=19)","m":-0.01,"lo":-0.03,"hi":0.01},{"t":0.5,"g":"Older (all, N=19)","m":-0.03,"lo":-0.05,"hi":-0.01},{"t":1,"g":"Older (all, N=19)","m":0.01,"lo":-0.012,"hi":0.032},{"t":1.5,"g":"Older (all, N=19)","m":0.03,"lo":0.008,"hi":0.052},{"t":2,"g":"Older (all, N=19)","m":0.03,"lo":0.008,"hi":0.052},{"t":2.5,"g":"Older (all, N=19)","m":0.01,"lo":-0.012,"hi":0.032},{"t":3,"g":"Older (all, N=19)","m":0.01,"lo":-0.012,"hi":0.032},{"t":3.5,"g":"Older (all, N=19)","m":0.01,"lo":-0.012,"hi":0.032},{"t":4,"g":"Older (all, N=19)","m":0.01,"lo":-0.012,"hi":0.032},{"t":4.5,"g":"Older (all, N=19)","m":0,"lo":-0.022,"hi":0.022},{"t":5,"g":"Older (all, N=19)","m":-0.02,"lo":-0.042,"hi":0.002},{"t":5.5,"g":"Older (all, N=19)","m":-0.02,"lo":-0.042,"hi":0.002},{"t":6,"g":"Older (all, N=19)","m":-0.03,"lo":-0.052,"hi":-0.008},{"t":6.5,"g":"Older (all, N=19)","m":-0.03,"lo":-0.052,"hi":-0.008},{"t":7,"g":"Older (all, N=19)","m":-0.04,"lo":-0.062,"hi":-0.018},{"t":7.5,"g":"Older (all, N=19)","m":-0.05,"lo":-0.072,"hi":-0.028},{"t":8,"g":"Older (all, N=19)","m":-0.06,"lo":-0.082,"hi":-0.038},{"t":8.5,"g":"Older (all, N=19)","m":-0.06,"lo":-0.082,"hi":-0.038},{"t":9,"g":"Older (all, N=19)","m":-0.07,"lo":-0.092,"hi":-0.048},{"t":9.5,"g":"Older (all, N=19)","m":-0.08,"lo":-0.102,"hi":-0.058},{"t":10,"g":"Older (all, N=19)","m":-0.09,"lo":-0.112,"hi":-0.068},{"t":10.5,"g":"Older (all, N=19)","m":-0.08,"lo":-0.102,"hi":-0.058},{"t":11,"g":"Older (all, N=19)","m":-0.09,"lo":-0.112,"hi":-0.068},{"t":11.5,"g":"Older (all, N=19)","m":-0.07,"lo":-0.092,"hi":-0.048},{"t":12,"g":"Older (all, N=19)","m":-0.09,"lo":-0.112,"hi":-0.068},{"t":12.5,"g":"Older (all, N=19)","m":-0.09,"lo":-0.112,"hi":-0.068},{"t":13,"g":"Older (all, N=19)","m":-0.1,"lo":-0.122,"hi":-0.078},{"t":13.5,"g":"Older (all, N=19)","m":-0.09,"lo":-0.112,"hi":-0.068},{"t":14,"g":"Older (all, N=19)","m":-0.1,"lo":-0.122,"hi":-0.078},{"t":14.5,"g":"Older (all, N=19)","m":-0.09,"lo":-0.112,"hi":-0.068},{"t":15,"g":"Older (all, N=19)","m":-0.1,"lo":-0.122,"hi":-0.078},{"t":15.5,"g":"Older (all, N=19)","m":-0.09,"lo":-0.112,"hi":-0.068},{"t":16,"g":"Older (all, N=19)","m":-0.1,"lo":-0.122,"hi":-0.078},{"t":16.5,"g":"Older (all, N=19)","m":-0.09,"lo":-0.112,"hi":-0.068},{"t":17,"g":"Older (all, N=19)","m":-0.1,"lo":-0.122,"hi":-0.078},{"t":17.5,"g":"Older (all, N=19)","m":-0.09,"lo":-0.112,"hi":-0.068},{"t":18,"g":"Older (all, N=19)","m":-0.08,"lo":-0.102,"hi":-0.058},{"t":18.5,"g":"Older (all, N=19)","m":-0.09,"lo":-0.112,"hi":-0.068},{"t":19,"g":"Older (all, N=19)","m":-0.11,"lo":-0.132,"hi":-0.088},{"t":19.5,"g":"Older (all, N=19)","m":-0.12,"lo":-0.142,"hi":-0.098},{"t":20,"g":"Older (all, N=19)","m":-0.1,"lo":-0.122,"hi":-0.078},{"t":20.5,"g":"Older (all, N=19)","m":-0.11,"lo":-0.132,"hi":-0.088},{"t":21,"g":"Older (all, N=19)","m":-0.1,"lo":-0.122,"hi":-0.078},{"t":21.5,"g":"Older (all, N=19)","m":-0.11,"lo":-0.132,"hi":-0.088},{"t":22,"g":"Older (all, N=19)","m":-0.12,"lo":-0.142,"hi":-0.098},{"t":22.5,"g":"Older (all, N=19)","m":-0.11,"lo":-0.132,"hi":-0.088},{"t":23,"g":"Older (all, N=19)","m":-0.12,"lo":-0.142,"hi":-0.098},{"t":23.5,"g":"Older (all, N=19)","m":-0.1,"lo":-0.122,"hi":-0.078},{"t":24,"g":"Older (all, N=19)","m":-0.1,"lo":-0.122,"hi":-0.078},{"t":24.5,"g":"Older (all, N=19)","m":-0.12,"lo":-0.142,"hi":-0.098},{"t":25,"g":"Older (all, N=19)","m":-0.14,"lo":-0.162,"hi":-0.118}
],
"sig": [
{"p":"Y","k":"MH","a":2.93,"b":3.44},{"p":"Y","k":"MH","a":3.55,"b":4.78},{"p":"Y","k":"MH","a":4.97,"b":5.36},{"p":"Y","k":"MH","a":8.04,"b":8.66},{"p":"Y","k":"MH","a":10.95,"b":12.2},{"p":"Y","k":"MH","a":16.17,"b":16.42},{"p":"Y","k":"MH","a":23.1,"b":25},
{"p":"Y","k":"EH","a":0.87,"b":4.69},{"p":"Y","k":"EH","a":4.92,"b":5.2},{"p":"Y","k":"EH","a":7.09,"b":9.1},{"p":"Y","k":"EH","a":9.58,"b":10.7},{"p":"Y","k":"EH","a":10.98,"b":11.23},{"p":"Y","k":"EH","a":11.9,"b":16.9},{"p":"Y","k":"EH","a":17.37,"b":19.5},{"p":"Y","k":"EH","a":24.58,"b":25},
{"p":"Y","k":"EM","a":1.4,"b":1.68},{"p":"Y","k":"EM","a":1.76,"b":2.35},{"p":"Y","k":"EM","a":9.58,"b":10.08},{"p":"Y","k":"EM","a":12.4,"b":14.27},{"p":"Y","k":"EM","a":17.7,"b":18.18},
{"p":"O","k":"MH","a":11.68,"b":12.63},{"p":"O","k":"MH","a":14.8,"b":15.1},{"p":"O","k":"MH","a":17.49,"b":21.56},{"p":"O","k":"MH","a":24.02,"b":24.75},
{"p":"O","k":"EH","a":0.95,"b":25},
{"p":"O","k":"EM","a":1.09,"b":1.28},{"p":"O","k":"EM","a":1.45,"b":11.87},{"p":"O","k":"EM","a":12.32,"b":14.02},{"p":"O","k":"EM","a":14.19,"b":14.53},{"p":"O","k":"EM","a":15.36,"b":15.87},{"p":"O","k":"EM","a":17.82,"b":18.16},{"p":"O","k":"EM","a":20.73,"b":21.06},{"p":"O","k":"EM","a":22.12,"b":23.27},
{"p":"B","k":"mean","a":-0.36,"b":-0.14},{"p":"B","k":"var","a":-0.46,"b":-0.1},{"p":"B","k":"var","a":0.12,"b":25},
{"p":"C","k":"mean","a":-0.35,"b":-0.27},{"p":"C","k":"mean","a":12.17,"b":24.23},{"p":"C","k":"mean","a":24.37,"b":25},
{"p":"C","k":"var","a":-0.46,"b":-0.24},{"p":"C","k":"var","a":-0.14,"b":-0.09},{"p":"C","k":"var","a":0.07,"b":1.19},{"p":"C","k":"var","a":1.38,"b":25}
]
},
"vconcat": [
{
 "hconcat": [
  {
   "width": 304, "height": 258,
   "title": {"text": "Young top 9 performers", "fontSize": 25, "anchor": "middle", "frame": "group", "dx": 7, "offset": 17},
   "layer": [
    {"data": {"name": "aY"}, "mark": {"type": "area", "fillOpacity": 0.25},
     "encoding": {
      "x": {"field": "t", "type": "quantitative", "scale": {"domain": [-0.6, 25], "nice": false, "zero": false},
            "axis": {"values": [0,5,10,15,20,25], "tickCount": 12, "tickSize": -5, "labelPadding": 10, "labelOverlap": false, "labelFlush": false, "title": "Time from onset [s]", "titleFontSize": 23, "titlePadding": 8, "titleColor": "#222"}},
      "y": {"field": "lo", "type": "quantitative", "scale": {"domain": [-0.5, 0.5], "nice": false, "zero": false},
            "axis": {"values": [-0.5,-0.4,-0.3,-0.2,-0.1,0,0.1,0.2,0.3,0.4,0.5], "tickCount": 12, "labelExpr": "'' + round(datum.value*10)/10", "labelOverlap": false, "labelFlush": false, "tickSize": -13, "labelPadding": 19, "title": ["Pupil diameter", "relative to baseline [mm]"], "titleFontSize": 20, "titleLineHeight": 22, "titlePadding": 24}},
      "y2": {"field": "hi"},
      "color": {"field": "c", "type": "nominal", "scale": {"domain": ["Easy","Medium","Hard"], "range": ["#4a86c8","#f7941d","#e21e45"]}, "legend": null}
     }},
    {"data": {"name": "aY"}, "mark": {"type": "line", "strokeWidth": 3},
     "encoding": {
      "x": {"field": "t", "type": "quantitative"},
      "y": {"field": "m", "type": "quantitative"},
      "color": {"field": "c", "type": "nominal", "legend": null}
     }},
    {"data": {"name": "sig"}, "transform": [{"filter": "datum.p == 'Y' && datum.k == 'MH'"}], "mark": {"type": "rect", "color": "#8e44a3"},
     "encoding": {"x": {"field": "a", "type": "quantitative"}, "x2": {"field": "b"}, "y": {"datum": -0.372, "type": "quantitative"}, "y2": {"datum": -0.407}}},
    {"data": {"name": "sig"}, "transform": [{"filter": "datum.p == 'Y' && datum.k == 'EH'"}], "mark": {"type": "rect", "color": "#e01c45"},
     "encoding": {"x": {"field": "a", "type": "quantitative"}, "x2": {"field": "b"}, "y": {"datum": -0.418, "type": "quantitative"}, "y2": {"datum": -0.453}}},
    {"data": {"name": "sig"}, "transform": [{"filter": "datum.p == 'Y' && datum.k == 'EM'"}], "mark": {"type": "rect", "color": "#f7941d"},
     "encoding": {"x": {"field": "a", "type": "quantitative"}, "x2": {"field": "b"}, "y": {"datum": -0.465, "type": "quantitative"}, "y2": {"datum": -0.5}}}
   ]
  },
  {
   "width": 304, "height": 258,
   "title": {"text": "Older top 9 performers", "fontSize": 25, "anchor": "middle", "frame": "group", "dx": 22, "offset": 4},
   "layer": [
    {"data": {"name": "aO"}, "mark": {"type": "area", "fillOpacity": 0.25},
     "encoding": {
      "x": {"field": "t", "type": "quantitative", "scale": {"domain": [-0.6, 25], "nice": false, "zero": false},
            "axis": {"values": [0,5,10,15,20,25], "tickCount": 12, "tickSize": -5, "labelPadding": 10, "labelOverlap": false, "labelFlush": false, "title": "Time from onset [s]", "titleFontSize": 23, "titlePadding": 8, "titleColor": "#222"}},
      "y": {"field": "lo", "type": "quantitative", "scale": {"domain": [-0.5, 0.5], "nice": false, "zero": false},
            "axis": {"values": [-0.5,-0.4,-0.3,-0.2,-0.1,0,0.1,0.2,0.3,0.4,0.5], "tickCount": 12, "labelExpr": "'' + round(datum.value*10)/10", "labelOverlap": false, "labelFlush": false, "tickSize": -13, "labelPadding": 19, "title": null}},
      "y2": {"field": "hi"},
      "color": {"field": "c", "type": "nominal", "scale": {"domain": ["Easy","Medium","Hard"], "range": ["#4a86c8","#f7941d","#e21e45"]},
        "legend": {"orient": "none", "legendX": 159, "legendY": -21, "title": null, "symbolType": "M-1,-0.068H1V0.068H-1Z", "symbolSize": 3481, "symbolStrokeWidth": 0, "symbolOpacity": 1, "clipHeight": 32, "rowPadding": 0, "labelOffset": 6, "labelFontSize": 21, "labelColor": "#1a1a1a", "labelLimit": 0, "padding": 0}}
     }},
    {"data": {"name": "aO"}, "mark": {"type": "line", "strokeWidth": 3},
     "encoding": {
      "x": {"field": "t", "type": "quantitative"},
      "y": {"field": "m", "type": "quantitative"},
      "color": {"field": "c", "type": "nominal", "legend": null}
     }},
    {"data": {"name": "sig"}, "transform": [{"filter": "datum.p == 'O' && datum.k == 'MH'"}], "mark": {"type": "rect", "color": "#8e44a3"},
     "encoding": {"x": {"field": "a", "type": "quantitative"}, "x2": {"field": "b"}, "y": {"datum": -0.372, "type": "quantitative"}, "y2": {"datum": -0.407}}},
    {"data": {"name": "sig"}, "transform": [{"filter": "datum.p == 'O' && datum.k == 'EH'"}], "mark": {"type": "rect", "color": "#e01c45"},
     "encoding": {"x": {"field": "a", "type": "quantitative"}, "x2": {"field": "b"}, "y": {"datum": -0.418, "type": "quantitative"}, "y2": {"datum": -0.453}}},
    {"data": {"name": "sig"}, "transform": [{"filter": "datum.p == 'O' && datum.k == 'EM'"}], "mark": {"type": "rect", "color": "#f7941d"},
     "encoding": {"x": {"field": "a", "type": "quantitative"}, "x2": {"field": "b"}, "y": {"datum": -0.465, "type": "quantitative"}, "y2": {"datum": -0.5}}}
   ]
  }
 ],
 "spacing": 98,
 "bounds": "flush",
 "title": {"text": "A", "fontSize": 56, "anchor": "start", "frame": "group", "dx": -101, "offset": -35},
 "resolve": {"scale": {"color": "independent", "x": "independent", "y": "independent"}, "legend": {"color": "independent"}}
},
{
 "hconcat": [
  {"width": 1, "height": 1, "data": {"values": [{"z": 0}]}, "mark": {"type": "point", "opacity": 0}},
  {
   "vconcat": [
    {
     "width": 703, "height": 261,
     "title": {"text": "B", "fontSize": 52, "anchor": "start", "frame": "group", "dx": -104, "offset": 1},
     "layer": [
      {"data": {"name": "bB"}, "mark": {"type": "area", "fillOpacity": 0.22},
       "encoding": {
        "x": {"field": "t", "type": "quantitative", "scale": {"domain": [-0.46, 25], "nice": false, "zero": false},
              "axis": {"values": [0,5,10,15,20,25], "tickCount": 12, "tickSize": -8, "labelPadding": 21, "labelOverlap": false, "labelFlush": false, "title": null}},
        "y": {"field": "lo", "type": "quantitative", "scale": {"domain": [-0.755, 0.3], "nice": false, "zero": false},
              "axis": {"values": [-0.6,-0.4,-0.2,0,0.2], "tickCount": 12, "labelExpr": "'' + round(datum.value*10)/10", "labelOverlap": false, "labelFlush": false, "tickSize": -12, "labelPadding": 20, "title": ["Pupil diameter", "relative to baseline [mm]"], "titleFontSize": 20, "titleLineHeight": 22, "titlePadding": 30, "titleColor": "#444"}},
        "y2": {"field": "hi"},
        "color": {"field": "g", "type": "nominal", "scale": {"domain": ["Young top 9 performers","Older top 9 performers"], "range": ["#39b54a","#8e3a98"]},
          "legend": {"orient": "none", "legendX": 374, "legendY": 2, "title": null, "symbolType": "M-1,-0.375H1V0.375H-1Z", "symbolSize": 1296, "symbolOpacity": 1, "symbolStrokeWidth": 0, "clipHeight": 26, "rowPadding": 0, "labelOffset": 12, "labelFontSize": 19.5, "labelColor": "#333", "labelLimit": 0, "padding": 0}}
       }},
      {"data": {"name": "bB"}, "mark": {"type": "line", "strokeWidth": 2.5},
       "encoding": {
        "x": {"field": "t", "type": "quantitative"},
        "y": {"field": "m", "type": "quantitative"},
        "color": {"field": "g", "type": "nominal", "legend": null}
       }},
      {"data": {"name": "sig"}, "transform": [{"filter": "datum.p == 'B' && datum.k == 'mean'"}], "mark": {"type": "rect", "color": "#111111"},
       "encoding": {"x": {"field": "a", "type": "quantitative"}, "x2": {"field": "b"}, "y": {"datum": -0.605, "type": "quantitative"}, "y2": {"datum": -0.643}}},
      {"data": {"name": "sig"}, "transform": [{"filter": "datum.p == 'B' && datum.k == 'var'"}], "mark": {"type": "rect", "color": "#8c8c8c"},
       "encoding": {"x": {"field": "a", "type": "quantitative"}, "x2": {"field": "b"}, "y": {"datum": -0.683, "type": "quantitative"}, "y2": {"datum": -0.716}}},
      {"data": {"values": [{"lab": "diff in mean"}]}, "mark": {"type": "text", "align": "left", "baseline": "middle", "fontSize": 19.5, "color": "#111111"},
       "encoding": {"text": {"field": "lab"}, "x": {"datum": 25.95, "type": "quantitative"}, "y": {"datum": -0.612, "type": "quantitative"}}},
      {"data": {"values": [{"lab": "diff in variability"}]}, "mark": {"type": "text", "align": "left", "baseline": "middle", "fontSize": 19.5, "color": "#8a8a8a"},
       "encoding": {"text": {"field": "lab"}, "x": {"datum": 25.95, "type": "quantitative"}, "y": {"datum": -0.7, "type": "quantitative"}}}
     ]
    },
    {
     "width": 703, "height": 261,
     "title": {"text": "C", "fontSize": 52, "anchor": "start", "frame": "group", "dx": -104, "offset": -12},
     "layer": [
      {"data": {"name": "bC"}, "mark": {"type": "area", "fillOpacity": 0.22},
       "encoding": {
        "x": {"field": "t", "type": "quantitative", "scale": {"domain": [-0.46, 25], "nice": false, "zero": false},
              "axis": {"values": [0,5,10,15,20,25], "tickCount": 12, "tickSize": -8, "labelPadding": 21, "labelOverlap": false, "labelFlush": false, "title": "Time from onset [s]", "titleFontSize": 23, "titlePadding": 20, "titleColor": "#222", "titleX": 369}},
        "y": {"field": "lo", "type": "quantitative", "scale": {"domain": [-0.755, 0.3], "nice": false, "zero": false},
              "axis": {"values": [-0.6,-0.4,-0.2,0,0.2], "tickCount": 12, "labelExpr": "'' + round(datum.value*10)/10", "labelOverlap": false, "labelFlush": false, "tickSize": -12, "labelPadding": 20, "title": ["Pupil diameter", "relative to baseline [mm]"], "titleFontSize": 20, "titleLineHeight": 22, "titlePadding": 30, "titleColor": "#444"}},
        "y2": {"field": "hi"},
        "color": {"field": "g", "type": "nominal", "scale": {"domain": ["Young (all , N=20)","Older (all, N=19)"], "range": ["#39b54a","#8e3a98"]},
          "legend": {"orient": "none", "legendX": 374, "legendY": -5.5, "title": null, "symbolType": "M-1,-0.375H1V0.375H-1Z", "symbolSize": 1296, "symbolOpacity": 1, "symbolStrokeWidth": 0, "clipHeight": 29, "rowPadding": 0, "labelOffset": 12, "labelFontSize": 19.5, "labelColor": "#333", "labelLimit": 0, "padding": 0}}
       }},
      {"data": {"name": "bC"}, "mark": {"type": "line", "strokeWidth": 2.5},
       "encoding": {
        "x": {"field": "t", "type": "quantitative"},
        "y": {"field": "m", "type": "quantitative"},
        "color": {"field": "g", "type": "nominal", "legend": null}
       }},
      {"data": {"name": "sig"}, "transform": [{"filter": "datum.p == 'C' && datum.k == 'mean'"}], "mark": {"type": "rect", "color": "#111111"},
       "encoding": {"x": {"field": "a", "type": "quantitative"}, "x2": {"field": "b"}, "y": {"datum": -0.605, "type": "quantitative"}, "y2": {"datum": -0.643}}},
      {"data": {"name": "sig"}, "transform": [{"filter": "datum.p == 'C' && datum.k == 'var'"}], "mark": {"type": "rect", "color": "#8c8c8c"},
       "encoding": {"x": {"field": "a", "type": "quantitative"}, "x2": {"field": "b"}, "y": {"datum": -0.683, "type": "quantitative"}, "y2": {"datum": -0.716}}},
      {"data": {"values": [{"lab": "diff in mean"}]}, "mark": {"type": "text", "align": "left", "baseline": "middle", "fontSize": 19.5, "color": "#111111"},
       "encoding": {"text": {"field": "lab"}, "x": {"datum": 25.95, "type": "quantitative"}, "y": {"datum": -0.615, "type": "quantitative"}}},
      {"data": {"values": [{"lab": "diff in variability"}]}, "mark": {"type": "text", "align": "left", "baseline": "middle", "fontSize": 19.5, "color": "#8a8a8a"},
       "encoding": {"text": {"field": "lab"}, "x": {"datum": 25.95, "type": "quantitative"}, "y": {"datum": -0.7, "type": "quantitative"}}}
     ]
    }
   ],
   "spacing": 74.3,
   "bounds": "flush",
   "title": {"text": "PDR to Easy condition", "fontSize": 36, "anchor": "start", "frame": "group", "dx": -121, "offset": 14},
   "resolve": {"scale": {"color": "independent", "x": "independent", "y": "independent"}, "legend": {"color": "independent"}}
  }
 ],
 "spacing": 4,
 "bounds": "flush",
 "resolve": {"scale": {"color": "independent", "x": "independent", "y": "independent"}, "legend": {"color": "independent"}}
}
]
}
